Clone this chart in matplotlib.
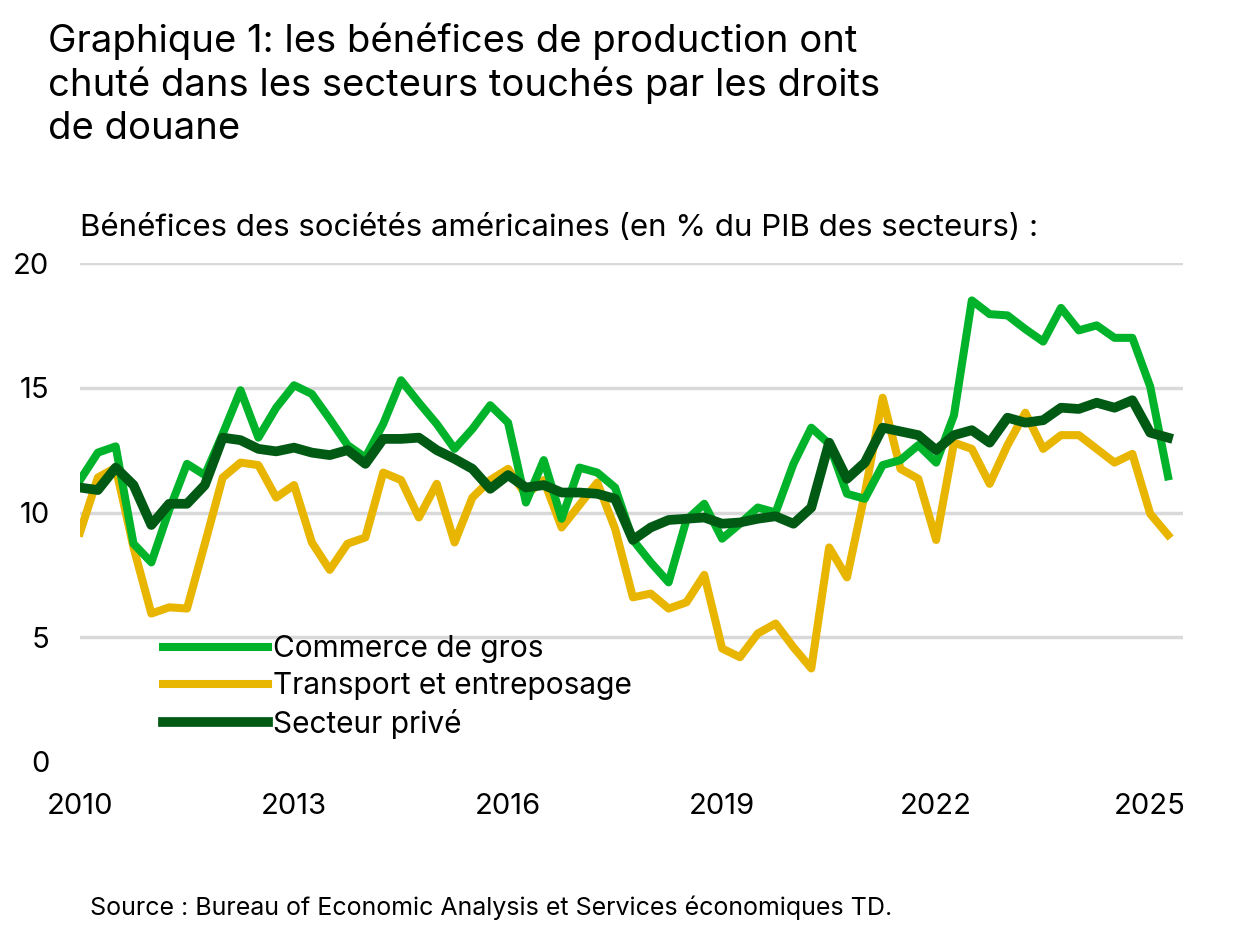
import matplotlib
matplotlib.use("Agg")
import matplotlib.pyplot as plt
import numpy as np

plt.rcParams['font.family'] = ['Inter', 'DejaVu Sans']

start_year = 2010
commerce = [11.3, 12.4, 12.65, 8.75, 8.0, 10.1, 11.95, 11.5, 13.15, 14.9, 13.0, 14.2, 15.1, 14.75,
            13.75, 12.7, 12.2, 13.55, 15.3, 14.4, 13.55, 12.55, 13.35, 14.3, 13.6, 10.4, 12.1, 9.75,
            11.8, 11.6, 11.0, 8.9, 8.0, 7.2, 9.7, 10.35, 8.95, 9.55, 10.2, 10.0, 11.95, 13.4, 12.75,
            10.75, 10.55, 11.9, 12.1, 12.7, 12.0, 13.9, 18.5, 17.95, 17.9, 17.35, 16.85, 18.2, 17.3,
            17.5, 17.0, 17.0, 15.05, 11.45]
transport = [9.2, 11.4, 11.8, 8.6, 5.95, 6.2, 6.15, 8.75, 11.4, 12.0, 11.9, 10.6, 11.1, 8.8, 7.7,
             8.75, 9.0, 11.6, 11.3, 9.8, 11.15, 8.8, 10.6, 11.3, 11.75, 10.7, 11.3, 9.4,
             10.3, 11.2, 9.35, 6.6, 6.75, 6.15, 6.4, 7.5, 4.55, 4.2, 5.15, 5.55, 4.6, 3.75, 8.6,
             7.4, 10.75, 14.6, 11.75, 11.35, 8.9, 12.8, 12.55, 11.15, 12.7, 14.0, 12.55, 13.1, 13.1,
             12.55, 12.0, 12.35, 9.95, 9.1]
prive = [11.0, 10.9, 11.8, 11.1, 9.5, 10.35, 10.35, 11.1, 13.0, 12.9, 12.55, 12.45, 12.6, 12.4,
         12.3, 12.5, 11.95, 12.95, 12.95, 13.0, 12.5, 12.15, 11.75, 10.95, 11.5, 11.0, 11.1, 10.8,
         10.8, 10.75, 10.55, 8.9, 9.4, 9.7, 9.75, 9.8, 9.55, 9.6, 9.75, 9.85, 9.55, 10.2, 12.8,
         11.35, 12.0, 13.4, 13.25, 13.1, 12.5, 13.1, 13.3, 12.8, 13.8, 13.6, 13.7, 14.2, 14.15,
         14.4, 14.2, 14.5, 13.2, 13.0]
labels = ["Commerce de gros", "Transport et entreposage", "Secteur privé"]
xticks = [2010, 2013, 2016, 2019, 2022, 2025]
yticks = [0, 5, 10, 15, 20]

x = start_year + np.arange(len(commerce)) * 0.25

fig = plt.figure(figsize=(12.4, 9.25), dpi=100)
ax = fig.add_axes([80/1240, 163/925, 1103/1240, 499/925])
for yv in yticks[1:]:
    ax.axhline(yv, color='#d9d9d9', lw=2.5, zorder=0)
l1, = ax.plot(x, commerce, color='#00B32A', lw=5.8, zorder=2)
l2, = ax.plot(x, transport, color='#E8B500', lw=5.8, zorder=1)
l3, = ax.plot(x, prive, color='#005A14', lw=7, zorder=3)
ax.set_xlim(2010, 2025.46)
ax.set_ylim(0, 20)
ax.set_xticks(xticks)
ax.set_xticklabels([str(t) for t in xticks])
ax.set_yticks(yticks)
ax.tick_params(length=0, labelsize=21, colors='black')
ax.tick_params(axis='y', pad=22)
ax.tick_params(axis='x', pad=22)
for s in ax.spines.values():
    s.set_visible(False)

fig.legend([l1, l2, l3], labels, loc='upper left', bbox_to_anchor=(163/1240, 1 - 635/925),
           frameon=False, fontsize=21.5, handlelength=3.5, labelspacing=0.3, handletextpad=0.2,
           borderaxespad=0, borderpad=0)

fig.text(48/1240, 1 - 22/925, "Graphique 1: les bénéfices de production ont\nchuté dans les secteurs touchés par les droits\nde douane",
         fontsize=27.5, va='top', ha='left', linespacing=1.25)
fig.text(80/1240, 1 - 228/925, "Bénéfices des sociétés américaines (en % du PIB des secteurs) :",
         fontsize=22.5, va='center', ha='left')
fig.text(90/1240, 1 - 908/925, "Source : Bureau of Economic Analysis et Services économiques TD.",
         fontsize=18, va='center', ha='left')

fig.savefig("out.png", dpi=100)
